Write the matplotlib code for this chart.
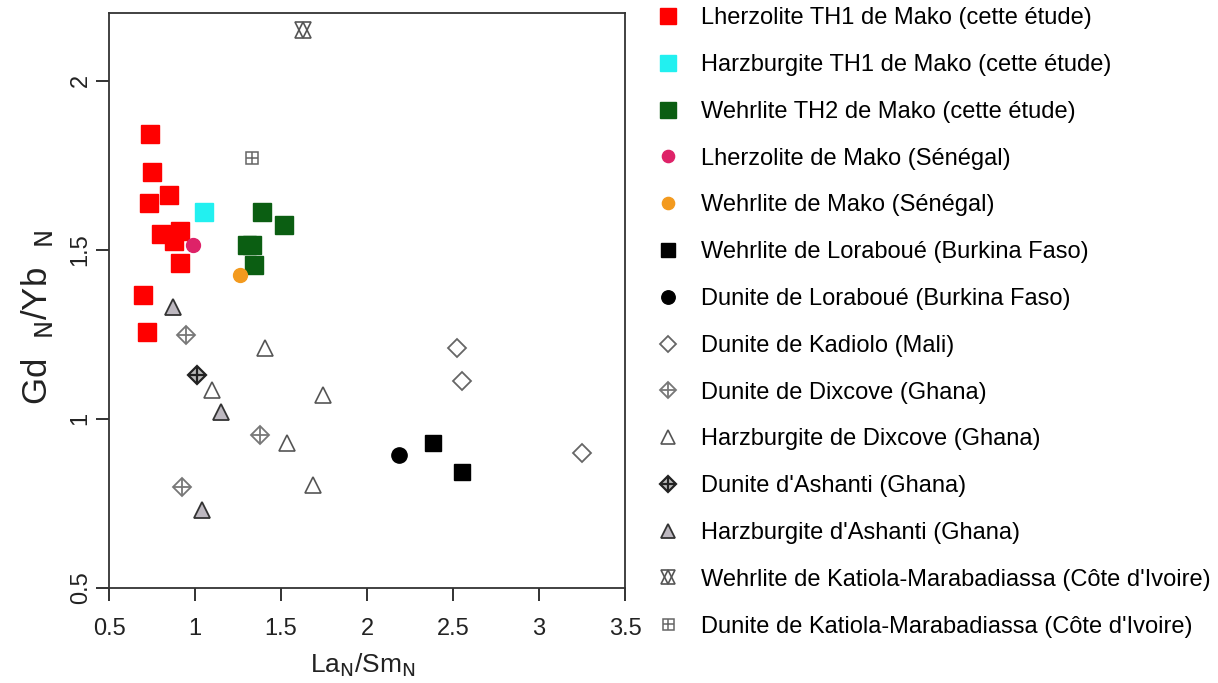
import matplotlib
matplotlib.use("Agg")
import matplotlib.pyplot as plt
from matplotlib.legend_handler import HandlerTuple

plt.rcParams['font.family'] = ['Liberation Sans', 'DejaVu Sans']

# ---- data (La_N/Sm_N, Gd_N/Yb_N) ----
lherz_th1_x = [0.738, 0.750, 0.733, 0.849, 0.802, 0.913, 0.878, 0.913, 0.698, 0.721]
lherz_th1_y = [1.843, 1.731, 1.639, 1.663, 1.547, 1.556, 1.527, 1.462, 1.367, 1.257]
harz_th1_x = [1.052]
harz_th1_y = [1.613]
wehr_th2_x = [1.391, 1.519, 1.302, 1.330, 1.343]
wehr_th2_y = [1.612, 1.574, 1.515, 1.515, 1.454]
lherz_mako_x = [0.990]
lherz_mako_y = [1.515]
wehr_mako_x = [1.262]
wehr_mako_y = [1.426]
wehr_lora_x = [2.386, 2.550]
wehr_lora_y = [0.928, 0.842]
dun_lora_x = [2.188]
dun_lora_y = [0.892]
dun_kad_x = [2.521, 2.554, 3.252]
dun_kad_y = [1.209, 1.112, 0.899]
dun_dix_x = [0.948, 1.378, 0.922]
dun_dix_y = [1.249, 0.953, 0.800]
harz_dix_x = [1.407, 1.097, 1.746, 1.537, 1.684]
harz_dix_y = [1.209, 1.086, 1.071, 0.928, 0.805]
dun_ash_x = [1.013]
dun_ash_y = [1.130]
harz_ash_x = [0.874, 1.151, 1.039]
harz_ash_y = [1.332, 1.019, 0.731]
wehr_kat_x = [1.626]
wehr_kat_y = [2.151]
dun_kat_x = [1.330]
dun_kat_y = [1.771]

labels = [
    "Lherzolite TH1 de Mako (cette étude)",
    "Harzburgite TH1 de Mako (cette étude)",
    "Wehrlite TH2 de Mako (cette étude)",
    "Lherzolite de Mako (Sénégal)",
    "Wehrlite de Mako (Sénégal)",
    "Wehrlite de Loraboué (Burkina Faso)",
    "Dunite de Loraboué (Burkina Faso)",
    "Dunite de Kadiolo (Mali)",
    "Dunite de Dixcove (Ghana)",
    "Harzburgite de Dixcove (Ghana)",
    "Dunite d'Ashanti (Ghana)",
    "Harzburgite d'Ashanti (Ghana)",
    "Wehrlite de Katiola-Marabadiassa (Côte d'Ivoire)",
    "Dunite de Katiola-Marabadiassa (Côte d'Ivoire)",
]

xticks = [0.5, 1, 1.5, 2, 2.5, 3, 3.5]
yticks = [0.5, 1, 1.5, 2]

fig = plt.figure(figsize=(12.18, 6.83), dpi=100)
ax = fig.add_axes([0.0895, 0.139, 0.4236, 0.842])

def pl(x, y, **kw):
    return ax.plot(x, y, linestyle='none', **kw)[0]

h = []
h.append(pl(lherz_th1_x, lherz_th1_y, marker='s', ms=13.5, mfc='#ff0000', mec='#ff0000'))
h.append(pl(harz_th1_x, harz_th1_y, marker='s', ms=13.5, mfc='#22f0f0', mec='#22f0f0'))
h.append(pl(wehr_th2_x, wehr_th2_y, marker='s', ms=13.5, mfc='#0b5e12', mec='#0b5e12'))
h.append(pl(lherz_mako_x, lherz_mako_y, marker='o', ms=10, mfc='#de2268', mec='#de2268'))
h.append(pl(wehr_mako_x, wehr_mako_y, marker='o', ms=10, mfc='#f39a1e', mec='#f39a1e'))
h.append(pl(wehr_lora_x, wehr_lora_y, marker='s', ms=11, mfc='black', mec='black'))
h.append(pl(dun_lora_x, dun_lora_y, marker='o', ms=11, mfc='black', mec='black'))
h.append(pl(dun_kad_x, dun_kad_y, marker='D', ms=9.5, mfc='white', mec='#666666', mew=1.3))
a1 = pl(dun_dix_x, dun_dix_y, marker='D', ms=9.5, mfc='white', mec='#777777', mew=1.3)
a2 = pl(dun_dix_x, dun_dix_y, marker='+', ms=13, mec='#777777', mew=1.3)
h.append((a1, a2))
h.append(pl(harz_dix_x, harz_dix_y, marker='^', ms=12, mfc='white', mec='#555555', mew=1.2))
b1 = pl(dun_ash_x, dun_ash_y, marker='D', ms=9.5, mfc='#bbbbbb', mec='#222222', mew=1.6)
b2 = pl(dun_ash_x, dun_ash_y, marker='+', ms=13, mec='#222222', mew=1.6)
h.append((b1, b2))
h.append(pl(harz_ash_x, harz_ash_y, marker='^', ms=12, mfc='#bdb8c0', mec='#333333', mew=1.3))
c1 = pl(wehr_kat_x, wehr_kat_y, marker='^', ms=11, mfc='none', mec='#555555', mew=1.2)
c2 = pl(wehr_kat_x, wehr_kat_y, marker='v', ms=11, mfc='none', mec='#555555', mew=1.2)
h.append((c1, c2))
d1 = pl(dun_kat_x, dun_kat_y, marker='s', ms=9, mfc='white', mec='#666666', mew=1.1)
d2 = pl(dun_kat_x, dun_kat_y, marker='+', ms=9, mec='#666666', mew=1.1)
h.append((d1, d2))

ax.set_xlim(0.5, 3.5)
ax.set_ylim(0.5, 2.2)
ax.set_xticks(xticks)
ax.set_xticklabels([f"{t:g}" for t in xticks])
ax.set_yticks(yticks)
ax.set_yticklabels([f"{t:g}" for t in yticks], rotation=90, va='center')
ax.tick_params(axis='both', which='both', direction='out', length=9.5, width=1.3,
               labelsize=17, colors='#222222')
ax.tick_params(axis='x', pad=12)
ax.tick_params(axis='y', pad=3)
for s in ax.spines.values():
    s.set_linewidth(1.3)
    s.set_color('#333333')

fig.text(363 / 1218, 1 - 665 / 683, r"La$_{\rm N}$/Sm$_{\rm N}$", fontsize=19,
         ha='center', va='center', color='#222222')
fig.text(37 / 1218, 1 - 318 / 683, r"Gd  $_{\rm N}$/Yb  $_{\rm N}$", fontsize=25,
         ha='center', va='center', rotation=90, color='#222222')

leg = fig.legend(h, labels, loc='upper left', bbox_to_anchor=(0.5155, 1.0205),
                 frameon=False, fontsize=17, numpoints=1, markerscale=0.88,
                 handler_map={tuple: HandlerTuple(ndivide=1)},
                 labelspacing=1.05, handletextpad=0.6, handlelength=1.6)

fig.savefig("out.png", dpi=100, facecolor='white')
